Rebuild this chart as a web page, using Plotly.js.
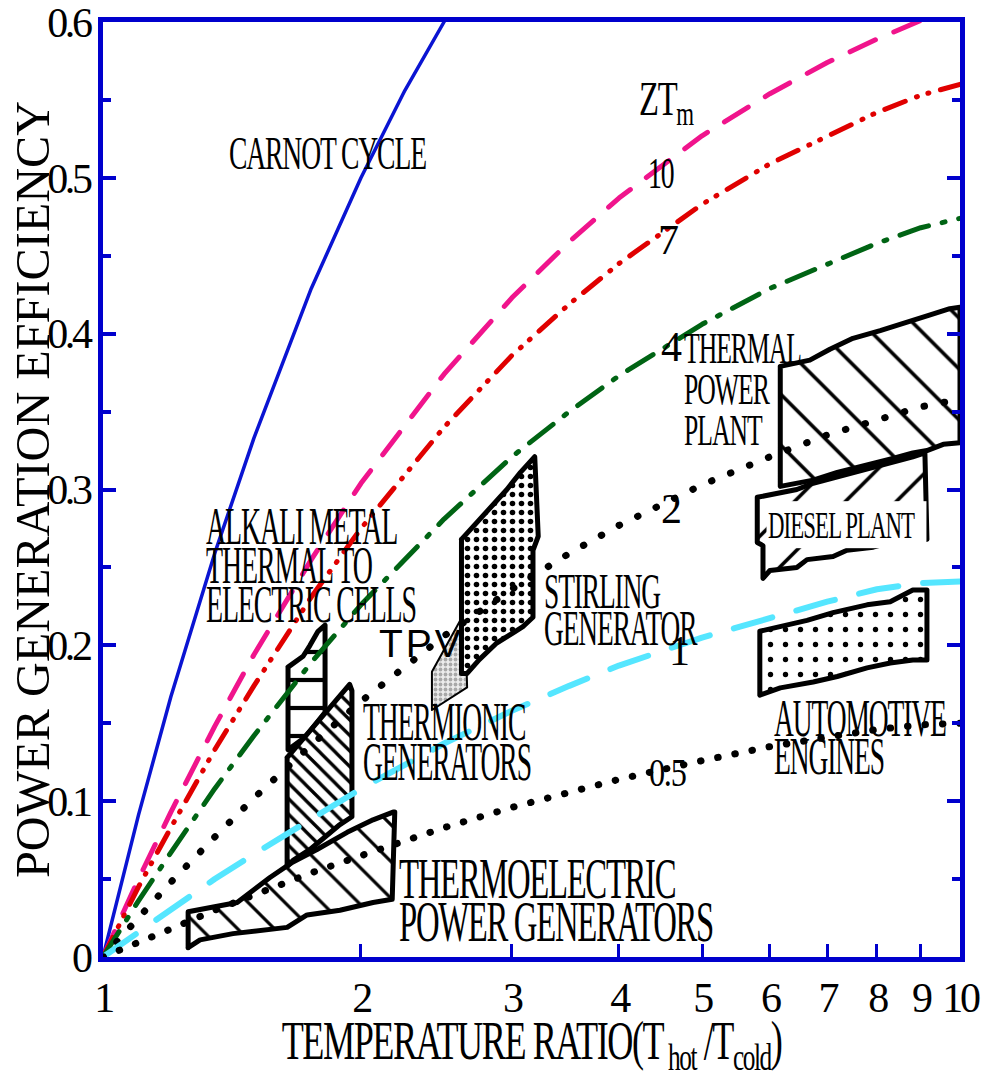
<!DOCTYPE html>
<html><head><meta charset="utf-8">
<script src="https://cdn.plot.ly/plotly-3.0.1.min.js"></script>
<style>
html,body{margin:0;padding:0;background:#fff;}
#chart{width:988px;height:1078px;}
.scatterlayer .js-line{stroke-linecap:round;stroke-linejoin:round;}
.xtick text,.ytick text{letter-spacing:-0.08em;}
</style></head><body><div id="chart"></div>
<script>
// ---------- data ----------
const T = [1, 1.1, 1.2, 1.35, 1.5, 1.75, 2, 2.5, 3, 3.5, 4, 5, 6, 7, 8, 9, 10];
const carnotT = [1, 1.1, 1.2, 1.35, 1.5, 1.75, 2, 2.25, 2.5];
const carnotEff = [0, 0.091, 0.167, 0.259, 0.333, 0.429, 0.5, 0.556, 0.6];
const zt10 = [0, 0.050, 0.093, 0.148, 0.194, 0.255, 0.304, 0.374, 0.423, 0.459, 0.487, 0.527, 0.554, 0.574, 0.589, 0.601, 0.61];
const zt7 = [0, 0.045, 0.083, 0.133, 0.174, 0.231, 0.275, 0.340, 0.386, 0.419, 0.445, 0.483, 0.509, 0.527, 0.542, 0.553, 0.560];
const zt4 = [0, 0.036, 0.067, 0.108, 0.142, 0.189, 0.226, 0.281, 0.321, 0.350, 0.373, 0.406, 0.429, 0.445, 0.458, 0.468, 0.474];
const zt2 = [0, 0.025, 0.048, 0.077, 0.102, 0.136, 0.164, 0.206, 0.236, 0.259, 0.277, 0.303, 0.321, 0.335, 0.345, 0.353, 0.358];
const zt1 = [0, 0.016, 0.031, 0.050, 0.066, 0.089, 0.108, 0.137, 0.158, 0.174, 0.187, 0.205, 0.218, 0.228, 0.236, 0.240, 0.241];
const zt05 = [0, 0.010, 0.018, 0.030, 0.040, 0.054, 0.065, 0.083, 0.096, 0.106, 0.114, 0.126, 0.135, 0.141, 0.146, 0.149, 0.150];

const thermoX = [1.257, 1.257, 1.434, 1.566, 1.666, 1.777, 1.927, 2.066, 2.18, 2.19, 2.175, 2.066, 1.89, 1.73, 1.64, 1.418, 1.298, 1.257];
const thermoY = [0.006, 0.029, 0.035, 0.051, 0.061, 0.069, 0.080, 0.088, 0.093, 0.093, 0.037, 0.035, 0.030, 0.027, 0.019, 0.015, 0.011, 0.006];
const amtecX = [1.644, 1.675, 1.712, 1.744, 1.782, 1.816, 1.816, 1.721, 1.644, 1.644];
const amtecY = [0.186, 0.189, 0.193, 0.200, 0.209, 0.213, 0.157, 0.141, 0.133, 0.186];
const thermionicX = [1.64, 1.94, 1.952, 1.952, 1.89, 1.84, 1.744, 1.666, 1.64, 1.64];
const thermionicY = [0.128, 0.175, 0.171, 0.090, 0.085, 0.080, 0.069, 0.062, 0.058, 0.128];
const tpvX = [2.42, 2.645, 2.66, 2.42, 2.42];
const tpvY = [0.183, 0.2215, 0.173, 0.1585, 0.183];
const stirlingX = [2.62, 2.68, 2.75, 2.81, 2.88, 2.96, 3.07, 3.15, 3.19, 3.22, 3.175, 3.175, 3.09, 3.01, 2.88, 2.75, 2.66, 2.62, 2.62];
const stirlingY = [0.268, 0.274, 0.281, 0.287, 0.293, 0.300, 0.311, 0.317, 0.321, 0.270, 0.261, 0.218, 0.212, 0.208, 0.2015, 0.191, 0.182, 0.182, 0.268];
const thermalX = [6.17, 6.68, 7.05, 7.50, 8.07, 8.67, 9.23, 9.73, 10, 10, 9.56, 9.15, 8.81, 8.35, 7.92, 7.50, 7.19, 6.74, 6.45, 6.17, 6.17];
const thermalY = [0.379, 0.383, 0.390, 0.397, 0.402, 0.407, 0.412, 0.416, 0.417, 0.330, 0.329, 0.325, 0.3235, 0.320, 0.317, 0.314, 0.311, 0.306, 0.304, 0.302, 0.379];
const dieselX = [5.80, 6.17, 6.45, 6.74, 7.19, 7.50, 7.92, 8.35, 8.81, 9.10, 9.15, 8.75, 8.29, 7.92, 7.38, 7.11, 6.63, 6.45, 6.00, 5.89, 5.89, 5.80, 5.80];
const dieselY = [0.295, 0.298, 0.300, 0.304, 0.308, 0.311, 0.3145, 0.318, 0.321, 0.3235, 0.268, 0.266, 0.266, 0.263, 0.261, 0.257, 0.255, 0.250, 0.248, 0.243, 0.264, 0.266, 0.295];
const autoX = [5.84, 6.17, 6.63, 7.11, 7.79, 8.29, 8.81, 9.15, 9.15, 8.81, 8.29, 7.79, 7.19, 6.74, 6.17, 5.84, 5.84];
const autoY = [0.209, 0.212, 0.216, 0.221, 0.226, 0.228, 0.2355, 0.2355, 0.1906, 0.1906, 0.1887, 0.1855, 0.180, 0.1765, 0.1727, 0.168, 0.209];

const xTickVals = [1, 2, 3, 4, 5, 6, 7, 8, 9, 10];
const xTickText = ['1', '2', '3', '4', '5', '6', '7', '8', '9', '10'];
const yTickVals = [0, 0.1, 0.2, 0.3, 0.4, 0.5, 0.6];
const yTickText = ['0', '0.1', '0.2', '0.3', '0.4', '0.5', '0.6'];

const labelTexts = ['CARNOT CYCLE', 'ZT<sub>m</sub>', '10', '7', '4', 'THERMAL<br>POWER<br>PLANT', '2', '1', '0.5',
  'ALKALI METAL<br>THERMAL TO<br>ELECTRIC CELLS', 'TPV', 'STIRLING<br>GENERATOR', 'THERMIONIC<br>GENERATORS',
  'THERMOELECTRIC<br>POWER GENERATORS', 'DIESEL PLANT', 'AUTOMOTIVE<br>ENGINES'];

// ---------- styles ----------
const SERIF = 'Liberation Serif, Times New Roman, serif';
const SANS = 'Liberation Sans, Arial, sans-serif';
const BLUE = '#0000cd';
// label placement: [pixel left, pixel cap-centre of first line, font size, target width, line gap]
const labelStyle = [
  [228, 154, 46, 197, 0], [638, 99, 48, 55, 0], [647, 174, 44, 26, 0], [657, 241, 42, 0, 0],
  [660, 348, 42, 0, 0], [683, 349, 44, 117, 41], [660, 510, 42, 0, 0], [668, 652, 42, 0, 0],
  [648, 772, 40, 37, 0], [205, 527, 52, 210, 39], [378, 644, 39, 0, 0], [543, 591, 50, 154, 37],
  [362, 722, 54, 168, 40], [398, 879, 56, 314, 43], [765, 525, 38, 147, 0], [773, 719, 52, 172, 38]
];
const PX = p => (p - 103) / 857;
const PY = p => (957 - p) / 935;

function region(x, y, pat, w) {
  return {type: 'scatter', mode: 'lines', x: x, y: y, fill: 'toself', fillcolor: 'white',
    fillpattern: Object.assign({fgcolor: 'black', bgcolor: 'white'}, pat),
    line: {color: 'black', width: w || 5}, hoverinfo: 'skip'};
}
function curve(x, y, color, width, dash) {
  return {type: 'scatter', mode: 'lines', x: x, y: y, line: {color: color, width: width, dash: dash}, hoverinfo: 'skip'};
}

const data = [
  region(thermoX, thermoY, {shape: '\\', size: 26, solidity: 0.12}),
  region(amtecX, amtecY, {shape: '-', size: 28, solidity: 0.15}),
  region(thermionicX, thermionicY, {shape: '\\', size: 11, solidity: 0.3}),
  region(tpvX, tpvY, {shape: '.', size: 5, solidity: 0.45, fgcolor: '#a8a8a8', bgcolor: '#ececec'}, 2),
  region(stirlingX, stirlingY, {shape: '.', size: 9, solidity: 0.3}),
  region(thermalX, thermalY, {shape: '\\', size: 36, solidity: 0.1}),
  region(dieselX, dieselY, {shape: '/', size: 36, solidity: 0.1}),
  region(autoX, autoY, {shape: '.', size: 15, solidity: 0.1}),
  curve(carnotT, carnotEff, '#0a14d2', 3.5, 'solid'),
  curve(T, zt10, '#f0148c', 5, '28px,20px'),
  curve(T, zt7, '#e00000', 5, '22px,12px,1px,11px,1px,12px'),
  curve(T, zt4, '#006414', 5, '30px,14px,3px,14px'),
  curve(T, zt2, '#000000', 7, '0.5px,20px'),
  curve(T, zt1, '#55e6ff', 6, '40px,25px'),
  curve(T, zt05, '#000000', 7, '0.5px,17px')
];

const annotations = labelTexts.map((t, i) => {
  const s = labelStyle[i];
  const isDiesel = t === 'DIESEL PLANT';
  return {xref: 'paper', yref: 'paper', x: PX(s[0]), y: PY(s[1]), xanchor: 'left', yanchor: 'middle', align: 'left',
    text: t, showarrow: false, borderpad: isDiesel ? 2 : 0,
    bgcolor: isDiesel ? 'white' : 'rgba(0,0,0,0)',
    font: {family: t === 'TPV' ? SANS : SERIF, size: s[2], color: 'black'}};
});

const tickFont = {family: SERIF, size: 42, color: 'black'};
const layout = {
  width: 988, height: 1078,
  margin: {l: 103, r: 28, t: 22, b: 121, pad: 0},
  paper_bgcolor: 'white', plot_bgcolor: 'white', showlegend: false,
  xaxis: {type: 'log', range: [0, 1], tickvals: xTickVals, ticktext: xTickText,
    ticks: 'inside', ticklen: 13, tickwidth: 3, tickcolor: BLUE, ticklabeloverflow: 'allow',
    showline: true, linecolor: BLUE, linewidth: 5, mirror: true, showgrid: false, zeroline: false,
    tickfont: tickFont,
    title: {text: 'TEMPERATURE RATIO(T<sub> hot</sub> /T<sub>cold</sub>)', font: {family: SERIF, size: 54, color: 'black'}, standoff: 4}},
  yaxis: {range: [0, 0.6], tickvals: yTickVals, ticktext: yTickText,
    ticks: 'inside', ticklen: 13, tickwidth: 4, tickcolor: BLUE, ticklabeloverflow: 'allow',
    minor: {dtick: 0.05, tick0: 0, ticks: 'inside', ticklen: 8, tickwidth: 4, tickcolor: BLUE, showgrid: false},
    showline: true, linecolor: BLUE, linewidth: 5, mirror: 'ticks', showgrid: false, zeroline: false,
    tickfont: tickFont,
    title: {text: 'POWER GENERATION EFFICIENCY', font: {family: SERIF, size: 48, color: 'black'}, standoff: 4}},
  annotations: annotations
};

function squeezeTr(el, w, anchor) {
  if (!w) return '';
  const bb = el.getBBox();
  if (!bb.width) return '';
  const s = w / bb.width;
  const ax = anchor === 'left' ? bb.x : bb.x + bb.width / 2;
  return 'translate(' + ax + ' 0) scale(' + s + ' 1) translate(' + (-ax) + ' 0)';
}

Plotly.newPlot('chart', data, layout, {staticPlot: true, displayModeBar: false}).then(gd => {
  gd.querySelectorAll('.annotation').forEach(g => {
    const i = +g.getAttribute('data-index');
    const st = labelStyle[i];
    const t = g.querySelector('text.annotation-text');
    if (!t) return;
    t.style.letterSpacing = labelTexts[i] === 'TPV' ? '3px' : '-0.04em';
    // tighter line spacing for multi-line labels
    if (st[4]) {
      t.querySelectorAll('tspan.line').forEach((ln, k) => ln.setAttribute('dy', k * st[4]));
    }
    const sq = squeezeTr(t, st[3], 'left');
    // vertical placement: first line cap centre at the wanted pixel row
    const r = t.getBoundingClientRect();
    const cap = r.top + 0.561 * st[2];
    const delta = st[1] - cap;
    const tr = ('translate(0 ' + delta + ') ' + sq).trim();
    t.setAttribute('transform', tr);
    const bg = g.querySelector('rect.bg');
    if (bg && labelTexts[i] === 'DIESEL PLANT') bg.setAttribute('transform', tr);
  });
  const xt = gd.querySelector('.g-xtitle text');
  if (xt) {
    xt.style.letterSpacing = '-0.04em';
    const p = xt.getAttribute('transform') || '';
    xt.setAttribute('transform', (p + ' ' + squeezeTr(xt, 500, 'center')).trim());
  }
  const yt = gd.querySelector('.g-ytitle text');
  if (yt) {
    const p = yt.getAttribute('transform') || '';
    yt.setAttribute('transform', ('translate(6 0) ' + p + ' ' + squeezeTr(yt, 777, 'center')).trim());
  }
});
</script></body></html>
